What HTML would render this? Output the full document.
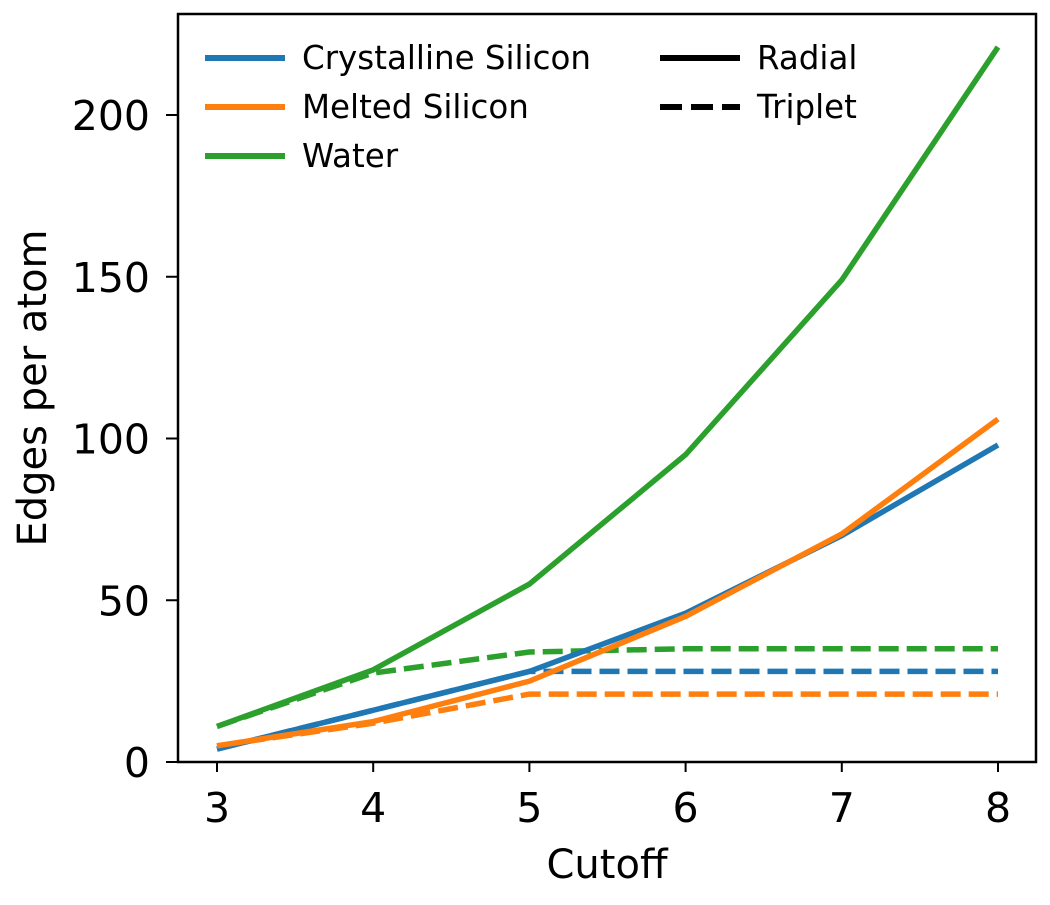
<!DOCTYPE html>
<html><head><meta charset="utf-8"><style>
body{margin:0;background:#fff;}
svg text{font-family:"DejaVu Sans","Liberation Sans",sans-serif;fill:#000;}
</style></head><body>
<svg id="chart" width="1050" height="900" xmlns="http://www.w3.org/2000/svg">
<g id="marks"></g>
<rect x="178" y="14" width="858" height="748" fill="none" stroke="#000" stroke-width="2.5"/>
<g id="axes"></g>
<text x="607" y="878" font-size="40" text-anchor="middle">Cutoff</text>
<text x="46" y="388" font-size="40" text-anchor="middle" transform="rotate(-90 46 388)">Edges per atom</text>
<g font-size="32.5">
<g><line x1="205" y1="58" x2="285" y2="58" stroke="#1f77b4" stroke-width="6"/><text x="302" y="69">Crystalline Silicon</text></g>
<g><line x1="205" y1="107" x2="285" y2="107" stroke="#ff7f0e" stroke-width="6"/><text x="302" y="118">Melted Silicon</text></g>
<g><line x1="205" y1="156" x2="285" y2="156" stroke="#2ca02c" stroke-width="6"/><text x="302" y="167">Water</text></g>
<g><line x1="660" y1="58" x2="740" y2="58" stroke="#000" stroke-width="6"/><text x="757" y="69">Radial</text></g>
<g><line x1="660" y1="107" x2="740" y2="107" stroke="#000" stroke-width="6" stroke-dasharray="22,9"/><text x="757" y="118">Triplet</text></g>
</g>
</svg>
<script>
const cutoffs=[3,4,5,6,7,8];
const crystRadial=[4,16,28,46,70,98];
const meltRadial=[5,12.5,25,45,70.5,106];
const waterRadial=[11,28.5,55,95,149,221];
const crystTriplet=[4,16,28,28,28,28];
const meltTriplet=[5,12,21,21,21,21];
const waterTriplet=[11,27.5,34,35,35,35];
const xTicks=[3,4,5,6,7,8];
const yTicks=[0,50,100,150,200];
const NS="http://www.w3.org/2000/svg";
function xs(v){return 217+(v-3)*156.2;}
function ys(v){return 762-v*3.235;}
const marks=document.getElementById('marks');
const axes=document.getElementById('axes');
function line(vals,color,dashed,name){
  const p=document.createElementNS(NS,'polyline');
  p.setAttribute('points',vals.map((v,i)=>xs(cutoffs[i])+','+ys(v)).join(' '));
  p.setAttribute('fill','none');p.setAttribute('stroke',color);p.setAttribute('stroke-width','5.5');
  if(dashed)p.setAttribute('stroke-dasharray','20,8');
  
  
  marks.appendChild(p);
}
line(crystTriplet,'#1f77b4',true,'crystalline-triplet-line');
line(meltTriplet,'#ff7f0e',true,'melted-triplet-line');
line(waterTriplet,'#2ca02c',true,'water-triplet-line');
line(crystRadial,'#1f77b4',false,'crystalline-radial-line');
line(meltRadial,'#ff7f0e',false,'melted-radial-line');
line(waterRadial,'#2ca02c',false,'water-radial-line');
xTicks.forEach(t=>{
  const l=document.createElementNS(NS,'line');
  l.setAttribute('x1',xs(t));l.setAttribute('x2',xs(t));l.setAttribute('y1',762);l.setAttribute('y2',772);
  l.setAttribute('stroke','#000');l.setAttribute('stroke-width','2');
  
  
  axes.appendChild(l);
  const tx=document.createElementNS(NS,'text');
  tx.setAttribute('x',xs(t));tx.setAttribute('y',822);tx.setAttribute('font-size','41');tx.setAttribute('text-anchor','middle');
  tx.textContent=t;
  
  
  axes.appendChild(tx);
});
yTicks.forEach(t=>{
  const l=document.createElementNS(NS,'line');
  l.setAttribute('x1',166);l.setAttribute('x2',178);l.setAttribute('y1',ys(t));l.setAttribute('y2',ys(t));
  l.setAttribute('stroke','#000');l.setAttribute('stroke-width','2');
  
  
  axes.appendChild(l);
  const tx=document.createElementNS(NS,'text');
  tx.setAttribute('x',150);tx.setAttribute('y',ys(t)+15);tx.setAttribute('font-size','41');tx.setAttribute('text-anchor','end');
  tx.textContent=t;
  
  
  axes.appendChild(tx);
});
</script>
</body></html>
